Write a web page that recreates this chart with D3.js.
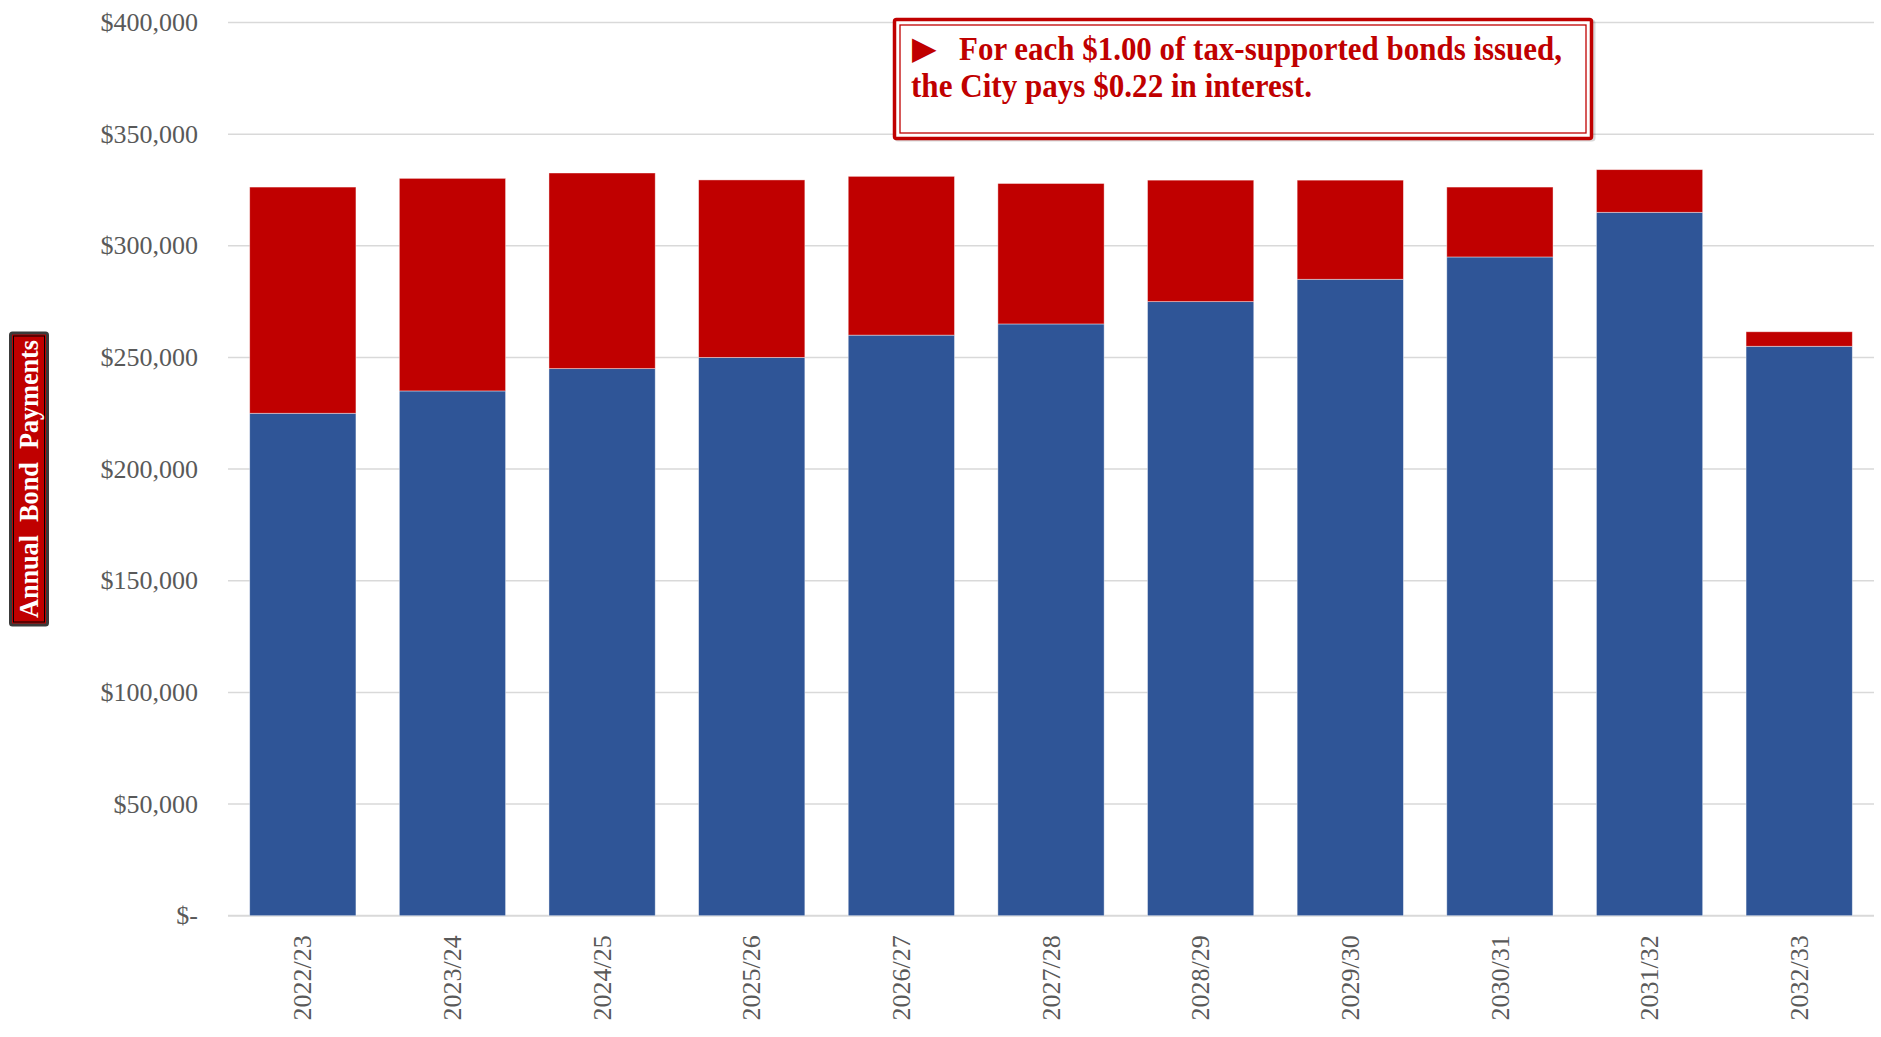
<!DOCTYPE html>
<html>
<head>
<meta charset="utf-8">
<script src="https://cdn.jsdelivr.net/npm/d3@7"></script>
<style>
  html, body { margin: 0; padding: 0; background: #fff; }
  svg { display: block; font-family: "Liberation Serif", "Times New Roman", serif; }
</style>
</head>
<body>
<div id="chart"></div>
<script>
// fiscal years on the x axis
const years = ["2022/23", "2023/24", "2024/25", "2025/26", "2026/27", "2027/28",
  "2028/29", "2029/30", "2030/31", "2031/32", "2032/33"];
// principal (blue) and interest (red), in dollars
const principal = [225000, 235000, 245000, 250000, 260000, 265000, 275000, 285000, 295000, 315000, 255000];
const interest = [101300, 95200, 87600, 79500, 71100, 62900, 54400, 44400, 31300, 19100, 6500];
const yTicks = [0, 50000, 100000, 150000, 200000, 250000, 300000, 350000, 400000];
const axisTitle = "Annual  Bond  Payments";
const noteLines = ["For each $1.00 of tax-supported bonds issued,", "the City pays $0.22 in interest."];

class BondChart {
  constructor(_config) {
    this.config = {
      parentElement: _config.parentElement,
      containerWidth: _config.containerWidth || 1881,
      containerHeight: _config.containerHeight || 1037,
      margin: _config.margin || { top: 22.5, right: 7, bottom: 121.3, left: 228 },
    };
    this.initVis();
  }

  initVis() {
    let vis = this;
    const m = vis.config.margin;
    vis.width = vis.config.containerWidth - m.left - m.right;
    vis.height = vis.config.containerHeight - m.top - m.bottom;

    vis.svg = d3.select(vis.config.parentElement)
      .append("svg")
      .attr("width", vis.config.containerWidth)
      .attr("height", vis.config.containerHeight);

    vis.chart = vis.svg.append("g")
      .attr("transform", `translate(${m.left},${m.top})`);

    vis.x = d3.scaleBand()
      .domain(years)
      .range([0, vis.width])
      .paddingInner(0.29)
      .paddingOuter(0.145);

    vis.y = d3.scaleLinear()
      .domain([0, 400000])
      .range([vis.height, 0]);

    vis.renderVis();
  }

  renderVis() {
    let vis = this;

    // gridlines
    vis.chart.append("g")
      .selectAll("line")
      .data(yTicks)
      .join("line")
      .attr("x1", 0)
      .attr("x2", vis.width)
      .attr("y1", d => vis.y(d))
      .attr("y2", d => vis.y(d))
      .attr("stroke", "#d9d9d9")
      .attr("stroke-width", d => d === 0 ? 2 : 1.5);

    // y tick labels
    vis.chart.append("g")
      .selectAll("text")
      .data(yTicks)
      .join("text")
      .attr("x", -30)
      .attr("y", d => vis.y(d))
      .attr("dy", "0.33em")
      .attr("text-anchor", "end")
      .attr("font-size", 26)
      .attr("fill", "#595959")
      .text(d => d === 0 ? "$-" : "$" + d3.format(",")(d));

    // stacked bars
    const rows = years.map((yr, i) => ({ year: yr, principal: principal[i], interest: interest[i] }));
    const stack = d3.stack().keys(["principal", "interest"])(rows);
    const colors = { principal: "#2f5597", interest: "#c00000" };

    vis.chart.append("g")
      .selectAll("g")
      .data(stack)
      .join("g")
      .attr("fill", d => colors[d.key])
      .selectAll("rect")
      .data(d => d)
      .join("rect")
      .attr("x", d => vis.x(d.data.year))
      .attr("width", vis.x.bandwidth())
      .attr("y", d => vis.y(d[1]))
      .attr("height", d => vis.y(d[0]) - vis.y(d[1]))
      .attr("stroke", "#ffffff")
      .attr("stroke-opacity", 0.5)
      .attr("stroke-width", 0.8);

    // x labels
    vis.chart.append("g")
      .selectAll("text")
      .data(years)
      .join("text")
      .attr("transform", d => `translate(${vis.x(d) + vis.x.bandwidth() / 2},${vis.height + 19.5}) rotate(-90)`)
      .attr("dy", "0.33em")
      .attr("text-anchor", "end")
      .attr("font-size", 26)
      .attr("fill", "#595959")
      .text(d => d);

    // y axis title box
    const title = vis.svg.append("g").attr("class", "axis-title");
    title.append("rect")
      .attr("x", 10.5).attr("y", 333)
      .attr("width", 37).attr("height", 292)
      .attr("rx", 2)
      .attr("fill", "#c00000")
      .attr("stroke", "#3a3a3a")
      .attr("stroke-width", 3);
    title.append("rect")
      .attr("x", 13.5).attr("y", 336)
      .attr("width", 31).attr("height", 286)
      .attr("fill", "none")
      .attr("stroke", "#000")
      .attr("stroke-width", 1);
    title.append("text")
      .attr("transform", "translate(29,479) rotate(-90)")
      .attr("dy", "0.35em")
      .attr("text-anchor", "middle")
      .attr("font-size", 27)
      .attr("font-weight", "bold")
      .attr("fill", "#fff")
      .attr("textLength", 278)
      .attr("lengthAdjust", "spacingAndGlyphs")
      .attr("xml:space", "preserve")
      .style("white-space", "pre")
      .text(axisTitle);

    // annotation box
    const note = vis.svg.append("g").attr("class", "note");
    note.append("rect")
      .attr("x", 896).attr("y", 21)
      .attr("width", 698).attr("height", 119)
      .attr("rx", 2)
      .attr("fill", "none")
      .attr("stroke", "#000")
      .attr("stroke-opacity", 0.15)
      .attr("stroke-width", 3);
    note.append("rect")
      .attr("x", 894.5).attr("y", 19.5)
      .attr("width", 697).attr("height", 119)
      .attr("rx", 2)
      .attr("fill", "#fff")
      .attr("stroke", "#c00000")
      .attr("stroke-width", 3.5);
    note.append("rect")
      .attr("x", 900).attr("y", 25)
      .attr("width", 686).attr("height", 108)
      .attr("fill", "none")
      .attr("stroke", "#c00000")
      .attr("stroke-width", 1.3);
    note.append("text")
      .attr("x", 912).attr("y", 59)
      .attr("font-size", 32)
      .attr("fill", "#c00000")
      .attr("font-family", "DejaVu Sans")
      .text("\u25B6");
    note.append("text")
      .attr("x", 959).attr("y", 60)
      .attr("font-size", 34)
      .attr("font-weight", "bold")
      .attr("fill", "#c00000")
      .attr("textLength", 603)
      .attr("lengthAdjust", "spacingAndGlyphs")
      .text(noteLines[0]);
    note.append("text")
      .attr("x", 911).attr("y", 97)
      .attr("font-size", 34)
      .attr("font-weight", "bold")
      .attr("fill", "#c00000")
      .attr("textLength", 401)
      .attr("lengthAdjust", "spacingAndGlyphs")
      .text(noteLines[1]);
  }
}

new BondChart({ parentElement: "#chart" });
</script>
</body>
</html>
